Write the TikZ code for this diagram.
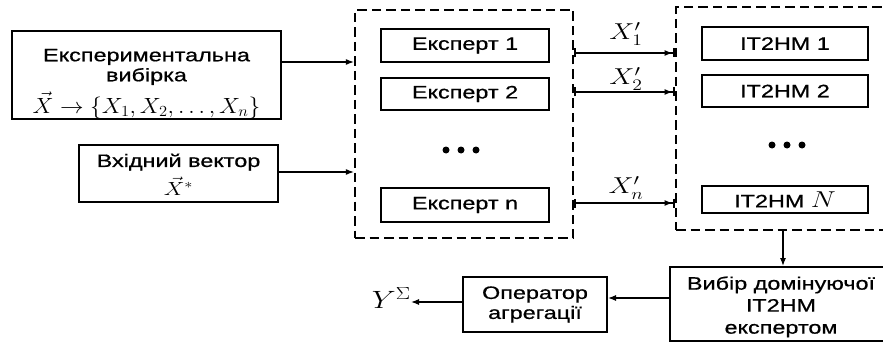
\RequirePackage{fix-cm}
\documentclass[tikz,border=0pt]{standalone}
\usepackage{fontspec}
\setmainfont[FakeStretch=1.3,FakeBold=0.7]{Liberation Sans}
\usetikzlibrary{arrows.meta}
\newcommand\widemath[1]{\scalebox{1.22}[1]{$#1$}}

\begin{document}
\begin{tikzpicture}[x=1pt,y=-1pt,
  txt/.style={font=\fontsize{18}{20}\selectfont},
  box/.style={txt,draw,line width=2pt,inner sep=0pt,align=center},
  group/.style={draw,line width=2.3pt,dash pattern=on 9.5pt off 5pt,inner sep=0pt},
  conn/.style={line width=1.2pt,-{Latex[length=8pt,width=6pt]}},
  joined/.style={line width=1.2pt,{Bar[width=9pt,line width=2.3pt]}-{Latex[length=8pt,width=6pt]Bar[width=9pt,line width=2.3pt]}},
  mlabel/.style={font=\fontsize{23}{23}\selectfont,inner sep=0pt},
  dot/.style={fill=black}
]
\clip (0,0) rectangle (883,342);

% input blocks
\node[box,minimum width=269pt,minimum height=84pt] (b1) at (146.5,75)
  {\rule{0pt}{30pt}Експериментальна\\вибірка\\[6pt]{\fontsize{22}{22}\selectfont\scalebox{1.07}[1]{$\vec{X}\to\{X_1,X_2,\ldots,X_n\}$}}};
\node[box,minimum width=199pt,minimum height=57pt] (b2) at (178.5,173.5)
  {\rule{0pt}{15pt}Вхідний вектор\\[5pt]{\fontsize{19}{19}\selectfont\widemath{\vec{X}^{*}}}};

% group of experts
\node[group,minimum width=218pt,minimum height=228pt] (d1) at (464,124) {};
\node[box,minimum width=168pt,minimum height=33pt] (e1) at (465,45.5) {Експерт 1};
\node[box,minimum width=168pt,minimum height=32pt] (e2) at (465,94) {Експерт 2};
\node[box,minimum width=168pt,minimum height=34pt] (en) at (465,205) {Експерт n};
\foreach \x in {446,461,476} \fill[dot] (\x,150) circle (3.5pt);

% group of IT2HM models
\node[group,minimum width=216pt,minimum height=223pt] (d2) at (784,118.5) {};
\node[box,minimum width=166pt,minimum height=33pt] (h1) at (785,43.5) {IT2HM 1};
\node[box,minimum width=166pt,minimum height=32pt] (h2) at (785,91) {IT2HM 2};
\node[box,minimum width=166pt,minimum height=27pt] (hn) at (785,199.5)
  {IT2HM {\fontsize{23}{23}\selectfont\widemath{N}}};
\foreach \x in {772,787,802} \fill[dot] (\x,145) circle (3.5pt);

% selection and aggregation
\node[box,minimum width=222pt,minimum height=74pt,font=\fontsize{18}{22}\selectfont] (b3) at (781,304)
  {\rule{0pt}{19pt}Вибір домінуючої\\IT2HM\\експертом};
\node[box,minimum width=144pt,minimum height=55pt] (op) at (535,304.5)
  {Оператор\\агрегації};
\node[font=\fontsize{25}{25}\selectfont,inner sep=0pt,anchor=east] (ys) at (411,298) {\widemath{Y^{\Sigma}}};

% inputs of the experts
\draw[conn] (b1.east |- 0,62) -- (d1.west |- 0,62);
\draw[conn] (b2.east |- 0,172) -- (d1.west |- 0,172);

% expert outputs
\draw[joined] (d1.east |- 0,53) -- (d2.west |- 0,53);
\draw[joined] (d1.east |- 0,92) -- (d2.west |- 0,92);
\draw[joined] (d1.east |- 0,203) -- (d2.west |- 0,203);
\node[mlabel] (l1) at (626,34) {\widemath{X'_1}};
\node[mlabel] (l2) at (626,79) {\widemath{X'_2}};
\node[mlabel] (ln) at (626,188) {\widemath{X'_n}};

% selection and output
\draw[conn] (d2.south -| 783,0) -- (b3.north -| 783,0);
\draw[conn] (b3.west |- 0,298) -- (op.east |- 0,298);
\draw[conn] (op.west |- 0,302) -- (ys.east |- 0,302);
\end{tikzpicture}
\end{document}
